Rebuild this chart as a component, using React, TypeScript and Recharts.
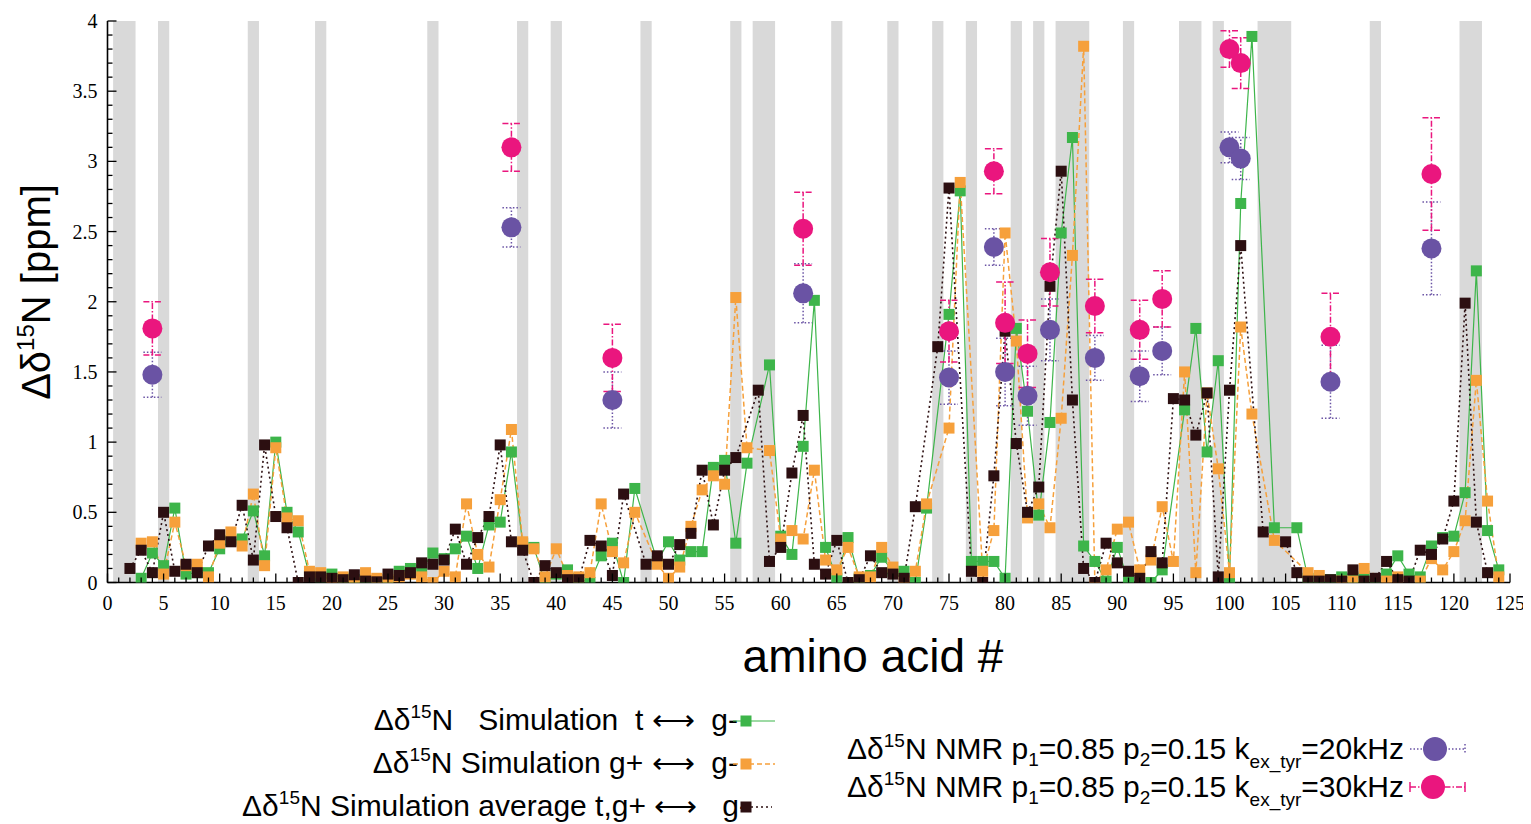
import React from 'react';
import { ComposedChart, Line, Scatter, XAxis, YAxis, ReferenceArea, ErrorBar } from 'recharts';

// ---------- DATA ----------
const residues: number[] = Array.from({ length: 124 }, (_, i) => i + 1);

// Δδ15N Simulation t <-> g-
const simTG: (number | null)[] = [
  null, null, 0.03, 0.21, 0.12, 0.53, 0.06, 0.07, 0.07, 0.24,
  0.30, 0.31, 0.51, 0.19, 1.00, 0.50, 0.36, 0.05, 0.04, 0.06,
  0.03, 0.02, 0.02, 0.00, 0.00, 0.08, 0.10, 0.09, 0.21, 0.17,
  0.24, 0.33, 0.10, 0.41, 0.43, 0.93, 0.28, 0.25, 0.00, 0.06,
  0.09, 0.03, 0.00, 0.19, 0.28, 0.00, 0.67, null, 0.15, 0.29,
  0.16, 0.22, 0.22, 0.82, 0.87, 0.28, 0.85, null, 1.55, 0.33,
  0.20, 0.97, 2.01, 0.25, 0.03, 0.32, 0.03, 0.05, 0.18, 0.08,
  0.08, 0.00, 0.53, null, 1.91, 2.79, 0.15, 0.15, 0.15, 0.03,
  1.81, 1.22, 0.48, 1.14, 2.49, 3.17, 0.26, 0.15, 0.01, 0.25,
  0.01, null, 0.00, 0.09, null, 1.23, 1.81, 0.93, 1.58, 0.02,
  2.70, 3.89, null, 0.39, null, 0.39, 0.03, 0.02, 0.02, 0.04,
  0.03, 0.04, 0.00, 0.06, 0.19, 0.06, 0.04, 0.26, 0.32, 0.33,
  0.64, 2.22, 0.37, 0.09,
];

// Δδ15N Simulation g+ <-> g-
const simGG: (number | null)[] = [
  null, null, 0.28, 0.29, 0.06, 0.43, 0.12, 0.13, 0.04, 0.28,
  0.36, 0.26, 0.63, 0.12, 0.96, 0.46, 0.44, 0.08, 0.07, 0.02,
  0.04, 0.00, 0.07, 0.03, 0.02, 0.04, 0.06, 0.04, 0.00, 0.08,
  0.04, 0.56, 0.20, 0.11, 0.59, 1.09, 0.29, 0.24, 0.04, 0.24,
  0.05, 0.04, 0.07, 0.56, 0.22, 0.14, 0.50, null, 0.13, 0.03,
  0.11, 0.40, 0.66, 0.76, 0.70, 2.03, 0.96, null, 0.94, 0.31,
  0.37, 0.31, 0.80, 0.16, 0.09, 0.25, 0.04, 0.04, 0.25, 0.11,
  0.01, 0.08, 0.56, null, 1.10, 2.85, null, 0.08, 0.37, 2.49,
  1.72, 0.46, 0.56, 0.39, 1.17, 2.33, 3.82, 0.00, 0.09, 0.38,
  0.43, 0.09, 0.16, 0.54, 0.15, 1.50, 0.07, 1.35, 0.81, 0.07,
  1.82, 1.20, null, 0.30, null, null, 0.07, 0.05, null, 0.01,
  0.01, 0.10, null, 0.01, 0.04, null, 0.01, 0.17, 0.09, 0.22,
  0.44, 1.44, 0.58, 0.04,
];

// Δδ15N Simulation average t,g+ <-> g-
const simAvg: (number | null)[] = [
  null, 0.10, 0.23, 0.07, 0.50, 0.08, 0.13, 0.07, 0.26, 0.34,
  0.29, 0.55, 0.16, 0.98, 0.47, 0.39, 0.00, 0.04, 0.04, 0.03,
  0.02, 0.055, 0.01, 0.005, 0.06, 0.05, 0.07, 0.14, 0.13, 0.16,
  0.38, 0.13, 0.32, 0.47, 0.98, 0.29, 0.23, 0.00, 0.12, 0.07,
  0.02, 0.02, 0.30, 0.26, 0.05, 0.63, null, 0.13, 0.19, 0.13,
  0.27, 0.35, 0.80, 0.41, 0.80, 0.89, null, 1.37, 0.15, 0.25,
  0.78, 1.19, 0.13, 0.06, 0.30, 0.00, 0.02, 0.19, 0.07, 0.06,
  0.03, 0.54, null, 1.68, 2.81, null, 0.08, 0.00, 0.76, 1.79,
  0.99, 0.50, 0.68, 2.11, 2.93, 1.30, 0.10, 0.00, 0.28, 0.14,
  0.08, 0.03, 0.22, 0.14, 1.31, 1.30, 1.05, 1.35, 0.04, 1.37,
  2.40, null, 0.36, null, 0.29, 0.07, 0.01, 0.01, 0.02, 0.01,
  0.09, 0.01, 0.03, 0.15, 0.02, 0.01, 0.23, 0.20, 0.31, 0.58,
  1.99, 0.43, 0.07, null,
];

// NMR measurements
const nmrResidues: number[] = [4, 36, 45, 62, 75, 79, 80, 82, 84, 88, 92, 94, 100, 101, 109, 118];
const nmr20: number[] = [1.48, 2.53, 1.30, 2.06, 1.46, 2.39, 1.50, 1.33, 1.80, 1.60, 1.47, 1.65, 3.10, 3.02, 1.43, 2.38];
const nmr20Err: number[] = [0.16, 0.14, 0.20, 0.21, 0.19, 0.13, 0.24, 0.21, 0.22, 0.16, 0.18, 0.17, 0.11, 0.15, 0.26, 0.33];
const nmr30: number[] = [1.81, 3.10, 1.60, 2.52, 1.79, 2.93, 1.85, 1.63, 2.21, 1.97, 1.80, 2.02, 3.80, 3.70, 1.75, 2.91];
const nmr30Err: number[] = [0.19, 0.17, 0.24, 0.26, 0.22, 0.16, 0.29, 0.24, 0.24, 0.19, 0.21, 0.20, 0.13, 0.18, 0.31, 0.40];

// shaded residue ranges
const grayBands: [number, number][] = [
  [0.5, 2.5], [4.5, 5.5], [12.5, 13.5], [18.5, 19.5], [28.5, 29.5], [36.5, 37.5],
  [39.5, 40.5], [47.5, 48.5], [55.5, 56.5], [57.5, 59.5], [64.5, 65.5], [69.5, 70.5],
  [73.5, 74.5], [76.5, 77.5], [80.5, 81.5], [82.5, 83.5], [84.5, 87.5], [90.5, 91.5],
  [95.5, 97.5], [98.5, 99.5], [102.5, 105.5], [112.5, 113.5], [120.5, 122.5],
];

const xMajorTicks: number[] = [0, 5, 10, 15, 20, 25, 30, 35, 40, 45, 50, 55, 60, 65, 70, 75, 80, 85, 90, 95, 100, 105, 110, 115, 120, 125];
const yMajorTicks: number[] = [0, 0.5, 1, 1.5, 2, 2.5, 3, 3.5, 4];
const xAllTicks: number[] = Array.from({ length: 126 }, (_, i) => i);
const yAllTicks: number[] = Array.from({ length: 41 }, (_, i) => +(i / 10).toFixed(1));

// ---------- STYLE ----------
const C = {
  green: '#3db54a',
  orange: '#f6a03b',
  black: '#2c0f11',
  purple: '#6a53a4',
  pink: '#ea167e',
  band: '#d9d9d9',
};
const SANS = "'Liberation Sans', Arial, Helvetica, sans-serif";
const SERIF = "'Liberation Serif', 'DejaVu Serif', 'Times New Roman', serif";

const chartData = residues.map((r, i) => ({ x: r, tg: simTG[i], gg: simGG[i], avg: simAvg[i] }));
const nmr20Data = nmrResidues.map((r, i) => ({ x: r, y: nmr20[i], err: nmr20Err[i] }));
const nmr30Data = nmrResidues.map((r, i) => ({ x: r, y: nmr30[i], err: nmr30Err[i] }));

const isMajorX = (v: number) => xMajorTicks.some((t) => Math.abs(t - v) < 1e-6);
const isMajorY = (v: number) => yMajorTicks.some((t) => Math.abs(t - v) < 1e-6);

const MAJ = 9;
const MIN = 5;

const tickTextStyle: React.CSSProperties = { fontFamily: SERIF, fontSize: 20, fill: '#000' };

const BottomTick = (props: any) => {
  const { x, y, payload } = props;
  const v = payload.value;
  const major = isMajorX(v);
  return (
    <g>
      <line x1={x} x2={x} y1={y} y2={y - (major ? MAJ : MIN)} stroke="#000" strokeWidth={1.3} />
      {major && (
        <text x={x} y={y + 27} textAnchor="middle" style={tickTextStyle}>
          {v}
        </text>
      )}
    </g>
  );
};
const TopTick = (props: any) => {
  const { x, y, payload } = props;
  const major = isMajorX(payload.value);
  return <line x1={x} x2={x} y1={y} y2={y + (major ? MAJ : MIN)} stroke="#000" strokeWidth={1.3} />;
};
const LeftTick = (props: any) => {
  const { x, y, payload } = props;
  const v = payload.value;
  const major = isMajorY(v);
  return (
    <g>
      <line x1={x} x2={x + (major ? MAJ : MIN)} y1={y} y2={y} stroke="#000" strokeWidth={1.3} />
      {major && (
        <text x={x - 10} y={y + 7} textAnchor="end" style={tickTextStyle}>
          {v}
        </text>
      )}
    </g>
  );
};
const RightTick = (props: any) => {
  const { x, y, payload } = props;
  const major = isMajorY(payload.value);
  return <line x1={x} x2={x - (major ? MAJ : MIN)} y1={y} y2={y} stroke="#000" strokeWidth={1.3} />;
};

const squareDot = (color: string, prefix: string) => (props: any) => {
  const { cx, cy, index, value } = props;
  if (cx == null || cy == null || Number.isNaN(cx) || Number.isNaN(cy) || value == null) {
    return <g key={`${prefix}-e-${index}`} />;
  }
  return <rect key={`${prefix}-${index}`} x={cx - 5.5} y={cy - 5.5} width={11} height={11} fill={color} />;
};

const circleShape = (color: string) => (props: any) => {
  const { cx, cy } = props;
  if (cx == null || cy == null) return <g />;
  return <circle cx={cx} cy={cy} r={10} fill={color} />;
};

const W = 1523;
const H = 816;

export default function App() {
  return (
    <div style={{ position: 'relative', width: W, height: H }}>
      <ComposedChart
        width={W}
        height={H}
        data={chartData}
        margin={{ top: 13, right: 21, left: 0, bottom: 211.5 }}
      >
        <XAxis
          xAxisId={0}
          dataKey="x"
          type="number"
          domain={[0, 125]}
          allowDataOverflow
          ticks={xAllTicks}
          interval={0}
          tickSize={0}
          tickMargin={0}
          tickLine={false}
          height={30}
          axisLine={{ stroke: '#000', strokeWidth: 1.6 }}
          tick={(p: any) => <BottomTick {...p} />}
        />
        <XAxis
          xAxisId="top"
          orientation="top"
          dataKey="x"
          type="number"
          domain={[0, 125]}
          allowDataOverflow
          ticks={xAllTicks}
          interval={0}
          tickSize={0}
          tickMargin={0}
          tickLine={false}
          height={0}
          axisLine={{ stroke: '#000', strokeWidth: 1.6 }}
          tick={(p: any) => <TopTick {...p} />}
        />
        <YAxis
          yAxisId={0}
          type="number"
          domain={[0, 4]}
          allowDataOverflow
          ticks={yAllTicks}
          interval={0}
          tickSize={0}
          tickMargin={0}
          tickLine={false}
          width={99.5}
          axisLine={{ stroke: '#000', strokeWidth: 1.6 }}
          tick={(p: any) => <LeftTick {...p} />}
        />
        <YAxis
          yAxisId="right"
          orientation="right"
          type="number"
          domain={[0, 4]}
          allowDataOverflow
          ticks={yAllTicks}
          interval={0}
          tickSize={0}
          tickMargin={0}
          tickLine={false}
          width={0}
          axisLine={{ stroke: '#000', strokeWidth: 1.6 }}
          tick={(p: any) => <RightTick {...p} />}
        />

        {grayBands.map((b, i) => (
          <ReferenceArea
            key={`band-${i}`}
            x1={b[0]}
            x2={b[1]}
            y1={0}
            y2={4}
            fill={C.band}
            fillOpacity={1}
            stroke="none"
            ifOverflow="hidden"
          />
        ))}

        <Line
          dataKey="tg"
          stroke={C.green}
          strokeWidth={1.2}
          connectNulls
          isAnimationActive={false}
          dot={squareDot(C.green, 'g')}
          activeDot={false}
        />
        <Line
          dataKey="gg"
          stroke={C.orange}
          strokeWidth={1.5}
          strokeDasharray="5 3"
          connectNulls
          isAnimationActive={false}
          dot={squareDot(C.orange, 'o')}
          activeDot={false}
        />
        <Line
          dataKey="avg"
          stroke={C.black}
          strokeWidth={1.6}
          strokeDasharray="2 3"
          connectNulls
          isAnimationActive={false}
          dot={squareDot(C.black, 'b')}
          activeDot={false}
        />
        <Scatter data={nmr20Data} dataKey="y" isAnimationActive={false} shape={circleShape(C.purple)}>
          <ErrorBar dataKey="err" direction="y" width={9} stroke={C.purple} strokeWidth={1.5} strokeDasharray="1.5 2" />
        </Scatter>
        <Scatter data={nmr30Data} dataKey="y" isAnimationActive={false} shape={circleShape(C.pink)}>
          <ErrorBar dataKey="err" direction="y" width={9} stroke={C.pink} strokeWidth={1.5} strokeDasharray="6 2 1.5 2" />
        </Scatter>
      </ComposedChart>

      <svg
        width={W}
        height={H}
        style={{ position: 'absolute', left: 0, top: 0, pointerEvents: 'none' }}
      >
        {/* Y axis title */}
        <text transform="translate(42,284) rotate(-90)" textAnchor="middle" style={{ fontFamily: SANS, fontSize: 40, fill: '#000' }}>
          Δδ<tspan style={{ fontSize: 24 }} dy={-16}>15</tspan>
          <tspan dy={16}>N [ppm]</tspan>
        </text>
        {/* X axis title */}
        <text x={865} y={664} textAnchor="middle" style={{ fontFamily: SANS, fontSize: 46, fill: '#000' }}>
          amino acid #
        </text>

        {/* Left legend */}
        <g style={{ fontFamily: SANS, fontSize: 30, fill: '#000' }}>
          <text x={730} y={722} textAnchor="end">
            Δδ<tspan style={{ fontSize: 19 }} dy={-12}>15</tspan>
            <tspan dy={12}>{'N\u00A0\u00A0\u00A0Simulation\u00A0\u00A0t\u00A0⟷\u00A0\u00A0g-'}</tspan>
          </text>
          <text x={730} y={765} textAnchor="end">
            Δδ<tspan style={{ fontSize: 19 }} dy={-12}>15</tspan>
            <tspan dy={12}>{'N\u00A0Simulation\u00A0g+\u00A0⟷\u00A0\u00A0g-'}</tspan>
          </text>
          <text x={741} y={808} textAnchor="end">
            Δδ<tspan style={{ fontSize: 19 }} dy={-12}>15</tspan>
            <tspan dy={12}>{'N\u00A0Simulation\u00A0average\u00A0t,g+\u00A0⟷\u00A0\u00A0\u00A0g-'}</tspan>
          </text>
        </g>
        <line x1={725} x2={767} y1={713} y2={713} stroke={C.green} strokeWidth={1.2} />
        <rect x={738 - 5.5} y={713 - 5.5} width={11} height={11} fill={C.green} />
        <line x1={725} x2={767} y1={756} y2={756} stroke={C.orange} strokeWidth={1.5} strokeDasharray="5 3" />
        <rect x={738 - 5.5} y={756 - 5.5} width={11} height={11} fill={C.orange} />
        <line x1={738} x2={764} y1={799} y2={799} stroke={C.black} strokeWidth={1.6} strokeDasharray="2 3" />
        <rect x={738 - 5.5} y={799 - 5.5} width={11} height={11} fill={C.black} />

        {/* Right legend */}
        <g style={{ fontFamily: SANS, fontSize: 30, fill: '#000' }}>
          <text x={839} y={751}>
            Δδ<tspan style={{ fontSize: 19 }} dy={-12}>15</tspan>
            <tspan dy={12}>N NMR p</tspan>
            <tspan style={{ fontSize: 19 }} dy={7}>1</tspan>
            <tspan dy={-7}>=0.85 p</tspan>
            <tspan style={{ fontSize: 19 }} dy={7}>2</tspan>
            <tspan dy={-7}>=0.15 k</tspan>
            <tspan style={{ fontSize: 19 }} dy={9}>ex_tyr</tspan>
            <tspan dy={-9}>=20kHz</tspan>
          </text>
          <text x={839} y={789}>
            Δδ<tspan style={{ fontSize: 19 }} dy={-12}>15</tspan>
            <tspan dy={12}>N NMR p</tspan>
            <tspan style={{ fontSize: 19 }} dy={7}>1</tspan>
            <tspan dy={-7}>=0.85 p</tspan>
            <tspan style={{ fontSize: 19 }} dy={7}>2</tspan>
            <tspan dy={-7}>=0.15 k</tspan>
            <tspan style={{ fontSize: 19 }} dy={9}>ex_tyr</tspan>
            <tspan dy={-9}>=30kHz</tspan>
          </text>
        </g>
        <line x1={1402} x2={1457} y1={741} y2={741} stroke={C.purple} strokeWidth={1.5} strokeDasharray="1.5 2" />
        <line x1={1457} x2={1457} y1={736} y2={746} stroke={C.purple} strokeWidth={1.5} strokeDasharray="1.5 2" />
        <circle cx={1427} cy={741} r={12} fill={C.purple} />
        <line x1={1402} x2={1457} y1={779} y2={779} stroke={C.pink} strokeWidth={1.5} strokeDasharray="6 2 1.5 2" />
        <line x1={1402} x2={1402} y1={774} y2={784} stroke={C.pink} strokeWidth={1.5} />
        <line x1={1457} x2={1457} y1={774} y2={784} stroke={C.pink} strokeWidth={1.5} />
        <circle cx={1425} cy={779} r={12} fill={C.pink} />
      </svg>
    </div>
  );
}
